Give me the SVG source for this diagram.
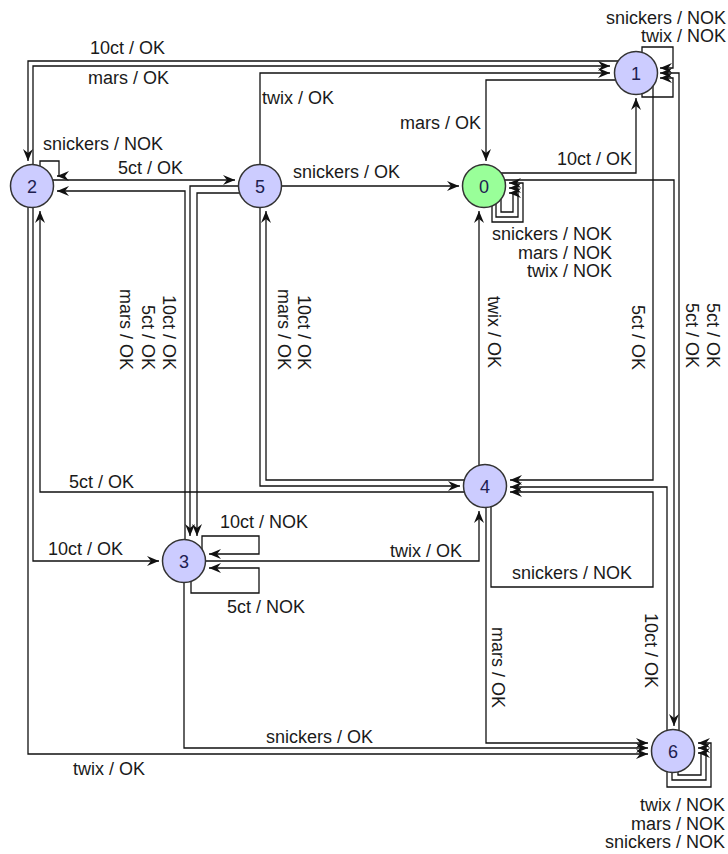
<svg xmlns="http://www.w3.org/2000/svg" width="728" height="854" viewBox="0 0 728 854">
<style>
.e{fill:none;stroke:#111;stroke-width:1.3;marker-end:url(#ah)}
.l{font-family:"Liberation Sans",Arial,sans-serif;font-size:18px;fill:#1a1a1a}
.r{text-anchor:end}
.n circle{fill:#ccccff;stroke:#333;stroke-width:1.5}
.n text{font-family:"Liberation Sans",Arial,sans-serif;font-size:18px;fill:#202050;text-anchor:middle}
</style>
<defs>
<marker id="ah" viewBox="0 0 12 10" refX="12" refY="5" markerWidth="12" markerHeight="10" markerUnits="userSpaceOnUse" orient="auto">
<path d="M0,0 L12,5 L0,10 L4,5 Z" fill="#111"/>
</marker>
</defs>
<rect width="728" height="854" fill="#fff"/>
<g id="connectors">
<g id="e1-2"><path class="e" d="M630,61 H28 V161"/><text class="l" x="90" y="54">10ct / OK</text></g>
<g id="e2-1"><path class="e" d="M33,186 V66 H610"/><text class="l" x="88" y="84">mars / OK</text></g>
<g id="e5-1"><path class="e" d="M260,186 V73 H610"/><text class="l" x="262" y="104">twix / OK</text></g>
<g id="e1-0"><path class="e" d="M635,80 H486 V161"/><text class="l r" x="481" y="129">mars / OK</text></g>
<g id="e0-1"><path class="e" d="M484,173 H636 V98"/><text class="l" x="557" y="165">10ct / OK</text></g>
<g id="e0-0"><path class="e" d="M492,190 V222 H523 V183 H509"/><path class="e" d="M496,190 V217 H518 V188 H509"/><path class="e" d="M501,190 V212 H513 V193 H509"/>
<text class="l r" x="612" y="240"><tspan x="612" y="240">snickers / NOK</tspan><tspan x="612" y="258.5">mars / NOK</tspan><tspan x="612" y="277">twix / NOK</tspan></text></g>
<g id="e0-6"><path class="e" d="M484,180 H674 V726"/><text class="l r" transform="translate(686,368) rotate(90)">5ct / OK</text></g>
<g id="e6-1"><path class="e" d="M679,751 V73 H660"/><text class="l r" transform="translate(707,368) rotate(90)">5ct / OK</text></g>
<g id="e1-1"><path class="e" d="M642,73 V47 H673 V68 H660"/><path class="e" d="M642,73 V97 H673 V78 H660"/>
<text class="l r" x="726" y="23.5"><tspan x="726" y="23.5">snickers / NOK</tspan><tspan x="726" y="42">twix / NOK</tspan></text></g>
<g id="e1-4"><path class="e" d="M653,75 V480 H510"/><text class="l r" transform="translate(632,370) rotate(90)">5ct / OK</text></g>
<g id="e6-4"><path class="e" d="M667,751 V487 H510"/><text class="l r" transform="translate(645,688) rotate(90)">10ct / OK</text></g>
<g id="e4-4"><path class="e" d="M491,486 V587 H653 V492 H510"/><text class="l" x="512" y="579">snickers / NOK</text></g>
<g id="e4-0"><path class="e" d="M479,486 V211"/><text class="l r" transform="translate(488,368) rotate(90)">twix / OK</text></g>
<g id="e4-6"><path class="e" d="M486,486 V743 H648"/><text class="l r" transform="translate(492,708) rotate(90)">mars / OK</text></g>
<g id="e3-4"><path class="e" d="M184,561 H479 V511"/><text class="l" x="390" y="557">twix / OK</text></g>
<g id="e3-3"><path class="e" d="M202,561 V536 H259 V554 H209"/><path class="e" d="M191,561 V593 H259 V568 H209"/>
<text class="l" x="220" y="528">10ct / NOK</text><text class="l" x="227" y="613">5ct / NOK</text></g>
<g id="e2-3"><path class="e" d="M33,186 V561 H159"/><text class="l" x="48" y="555">10ct / OK</text></g>
<g id="e3-6"><path class="e" d="M184,561 V748 H648"/><text class="l" x="266" y="743">snickers / OK</text></g>
<g id="e2-6"><path class="e" d="M28,186 V754 H648"/><text class="l" x="73" y="775">twix / OK</text></g>
<g id="e6-6"><path class="e" d="M667,751 V787 H711 V743 H698"/><path class="e" d="M672,751 V780 H706 V748 H698"/><path class="e" d="M678,751 V775 H701 V753 H698"/>
<text class="l r" x="725" y="811"><tspan x="725" y="811">twix / NOK</tspan><tspan x="725" y="829.5">mars / NOK</tspan><tspan x="725" y="848">snickers / NOK</tspan></text></g>
<g id="e2-2"><path class="e" d="M40,186 V161 H59 V176 H57"/><text class="l" x="43" y="150">snickers / NOK</text></g>
<g id="e2-5"><path class="e" d="M32,180 H235"/><text class="l" x="118" y="174">5ct / OK</text></g>
<g id="e3-2"><path class="e" d="M185,561 V191 H57"/><text class="l r" transform="translate(120,370) rotate(90)">mars / OK</text></g>
<g id="e5-3a"><path class="e" d="M260,186 H190 V536"/><text class="l r" transform="translate(142,370) rotate(90)">5ct / OK</text></g>
<g id="e5-3b"><path class="e" d="M260,193 H197 V536"/><text class="l r" transform="translate(163,370) rotate(90)">10ct / OK</text></g>
<g id="e5-0"><path class="e" d="M260,186 H459"/><text class="l" x="293" y="178">snickers / OK</text></g>
<g id="e5-4"><path class="e" d="M260,186 V486 H460"/><text class="l r" transform="translate(278,370) rotate(90)">mars / OK</text></g>
<g id="e4-5"><path class="e" d="M485,480 H266 V211"/><text class="l r" transform="translate(298,370) rotate(90)">10ct / OK</text></g>
<g id="e4-2"><path class="e" d="M485,492 H40 V211"/><text class="l" x="69" y="488">5ct / OK</text></g>
</g>
<g id="node0" class="n"><circle cx="484" cy="186" r="21.5" style="fill:#99ff99"/><text x="484" y="192.5">0</text></g>
<g id="node1" class="n"><circle cx="636" cy="73" r="21.5"/><text x="636" y="79.5">1</text></g>
<g id="node2" class="n"><circle cx="32" cy="186" r="21.5"/><text x="32" y="192.5">2</text></g>
<g id="node3" class="n"><circle cx="184" cy="561" r="21.5"/><text x="184" y="567.5">3</text></g>
<g id="node4" class="n"><circle cx="485" cy="486" r="21.5"/><text x="485" y="492.5">4</text></g>
<g id="node5" class="n"><circle cx="260" cy="186" r="21.5"/><text x="260" y="192.5">5</text></g>
<g id="node6" class="n"><circle cx="673" cy="751" r="21.5"/><text x="673" y="757.5">6</text></g>
</svg>
